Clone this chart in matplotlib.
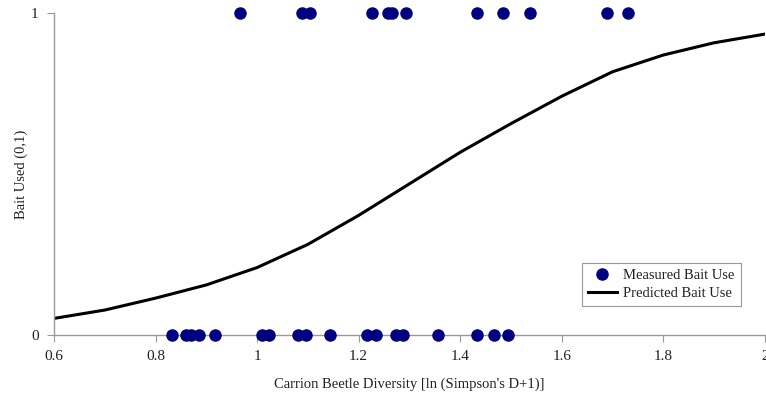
import matplotlib
matplotlib.use('Agg')
import matplotlib.pyplot as plt

# measured bait use (0 = not used, 1 = used)
used_x = [0.967, 1.088, 1.105, 1.226, 1.257, 1.265, 1.293, 1.433, 1.484, 1.537, 1.689, 1.730]
unused_x = [0.833, 0.859, 0.869, 0.885, 0.918, 1.009, 1.023, 1.080, 1.096, 1.143,
            1.216, 1.234, 1.273, 1.287, 1.356, 1.434, 1.466, 1.495]

# predicted bait use curve
pred_x = [0.6, 0.7, 0.8, 0.9, 1.0, 1.1, 1.2, 1.3, 1.4, 1.5, 1.6, 1.7, 1.8, 1.9, 2.0]
pred_y = [0.052, 0.078, 0.115, 0.156, 0.210, 0.282, 0.372, 0.470, 0.568, 0.657, 0.742, 0.818, 0.870, 0.908, 0.935]

x_ticks = [0.6, 0.8, 1.0, 1.2, 1.4, 1.6, 1.8, 2.0]
x_ticklabels = ['0.6', '0.8', '1', '1.2', '1.4', '1.6', '1.8', '2']

plt.rcParams['font.family'] = ['Liberation Serif', 'DejaVu Serif']

fig = plt.figure(figsize=(7.66, 3.99), dpi=100)
ax = fig.add_axes([0.0705, 0.160, 0.928, 0.807])

measured = [1] * len(used_x) + [0] * len(unused_x)
ax.plot(used_x + unused_x, measured, 'o', color='#000080', markersize=8,
        clip_on=False, zorder=3, label='Measured Bait Use')
ax.plot(pred_x, pred_y, '-', color='black', linewidth=2.2, label='Predicted Bait Use')

ax.set_xlim(0.6, 2.0)
ax.set_ylim(0, 1)
ax.set_xticks(x_ticks)
ax.set_xticklabels(x_ticklabels)
ax.set_yticks([0, 1])

for side in ['top', 'right']:
    ax.spines[side].set_visible(False)
for side in ['left', 'bottom']:
    ax.spines[side].set_color('#999999')
    ax.spines[side].set_linewidth(1.0)
ax.tick_params(direction='out', length=5, color='#999999', labelsize=11, labelcolor='#222222')
ax.tick_params(axis='y', pad=6)
ax.tick_params(axis='x', pad=6)

ax.set_xlabel("Carrion Beetle Diversity [ln (Simpson's D+1)]", fontsize=10.5, color='#222222', labelpad=10)
ax.set_ylabel('Bait Used (0,1)', fontsize=10.5, color='#222222', labelpad=2)

leg = ax.legend(loc='lower right', bbox_to_anchor=(0.966, 0.09),
                fontsize=10.5, fancybox=False, framealpha=1, handlelength=2.0,
                handletextpad=0.45, borderpad=0.4, labelspacing=0.35, borderaxespad=0)
leg.get_frame().set_edgecolor('#999999')
leg.get_frame().set_linewidth(0.8)
for t in leg.get_texts():
    t.set_color('#222222')

fig.savefig('out.png', dpi=100)
